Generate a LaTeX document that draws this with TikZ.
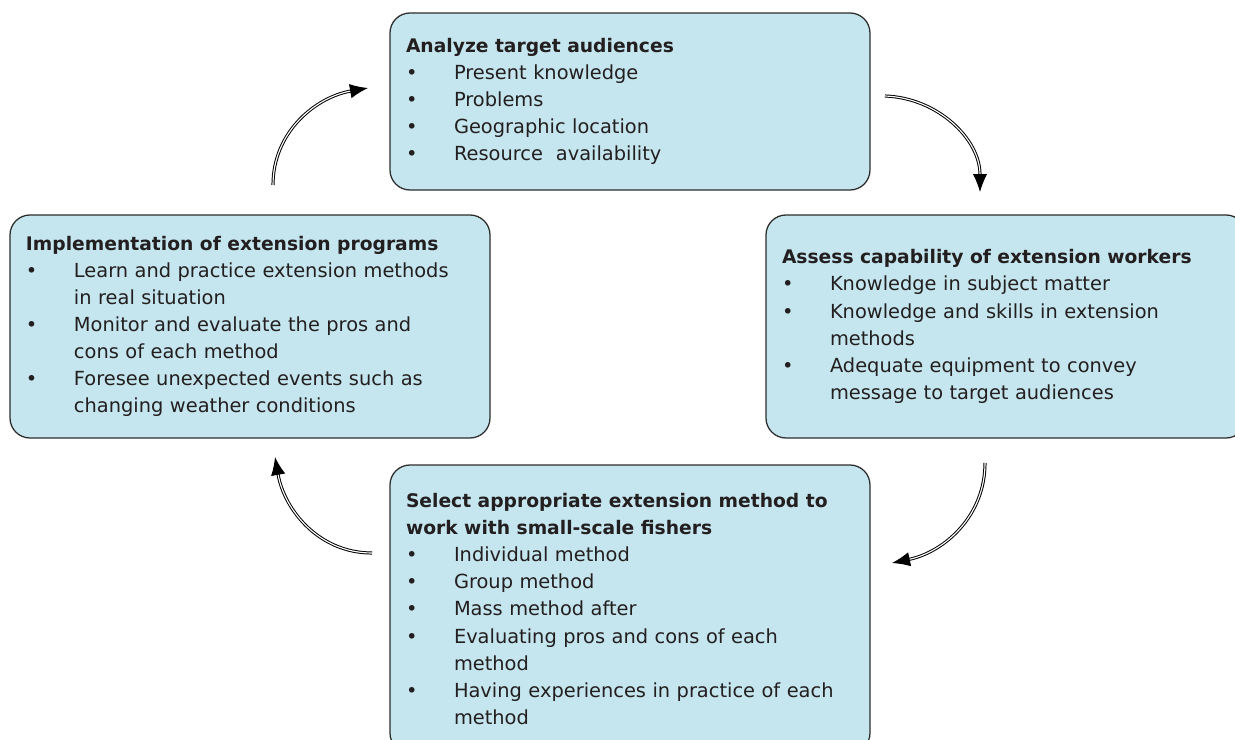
\documentclass[tikz,border=0pt]{standalone}
\usepackage{fontspec}
\setmainfont{DejaVu Sans}
\usetikzlibrary{arrows.meta}

\definecolor{boxblue}{RGB}{197,230,238}
\definecolor{boxline}{RGB}{45,45,45}
\definecolor{inkgray}{RGB}{35,31,32}

% heading, bullet item and continuation line
\newcommand{\ttl}[1]{{\fontsize{13.3}{19.3}\selectfont\bfseries #1}}
\newcommand{\itm}[1]{\makebox[1.2cm][l]{\textbullet}#1}
\newcommand{\cnt}[1]{\hspace*{1.2cm}#1}

\begin{document}
\begin{tikzpicture}[font=\fontsize{13.8}{19.3}\selectfont, text=inkgray]
	\tikzstyle{stageStyle}=[draw=boxline, line width=0.9pt, fill=boxblue, rounded corners=0.5cm, minimum width=12cm, inner xsep=0.4cm, text width=11.2cm, align=left]
	\tikzstyle{cycleStyle}=[line width=0.7pt, double=white, double distance=0.8pt, -{Latex[length=0.45cm, width=0.36cm]}]
	\useasboundingbox (0,0) rectangle (30.875,-18.5);
	\node[stageStyle, minimum height=4.425cm] (analyze) at (15.75,-2.5375) {\ttl{Analyze target audiences}\\
		\itm{Present knowledge}\\
		\itm{Problems}\\
		\itm{Geographic location}\\
		\itm{Resource\ \ availability}};
	\node[stageStyle, minimum height=5.575cm] (assess) at (25.15,-8.1625) {\ttl{Assess capability of extension workers}\\
		\itm{Knowledge in subject matter}\\
		\itm{Knowledge and skills in extension}\\
		\cnt{methods}\\
		\itm{Adequate equipment to convey}\\
		\cnt{message to target audiences}};
	\node[stageStyle, minimum height=7.2cm] (select) at (15.75,-15.225) {\ttl{Select appropriate extension method to}\\
		\ttl{work with small-scale fishers}\\
		\itm{Individual method}\\
		\itm{Group method}\\
		\itm{Mass method after}\\
		\itm{Evaluating pros and cons of each}\\
		\cnt{method}\\
		\itm{Having experiences in practice of each}\\
		\cnt{method}};
	\node[stageStyle, minimum height=5.575cm] (implement) at (6.25,-8.1625) {\ttl{Implementation of extension programs}\\
		\itm{Learn and practice extension methods}\\
		\cnt{in real situation}\\
		\itm{Monitor and evaluate the pros and}\\
		\cnt{cons of each method}\\
		\itm{Foresee unexpected events such as}\\
		\cnt{changing weather conditions}};
	\coordinate (c1s) at (6.825,-4.625);
	\coordinate (c1e) at (9.2,-2.2);
	\coordinate (c2s) at (22.125,-2.4);
	\coordinate (c2e) at (24.5,-4.8);
	\coordinate (c3s) at (24.625,-11.575);
	\coordinate (c3e) at (22.3,-14.075);
	\coordinate (c4s) at (9.3,-13.825);
	\coordinate (c4e) at (6.875,-11.425);
	\draw[cycleStyle] (c1s) to[out=90, in=190] (c1e);
	\draw[cycleStyle] (c2s) to[out=-2, in=90] (c2e);
	\draw[cycleStyle] (c3s) to[out=-90, in=12] (c3e);
	\draw[cycleStyle] (c4s) to[out=180, in=-80] (c4e);
\end{tikzpicture}
\end{document}
